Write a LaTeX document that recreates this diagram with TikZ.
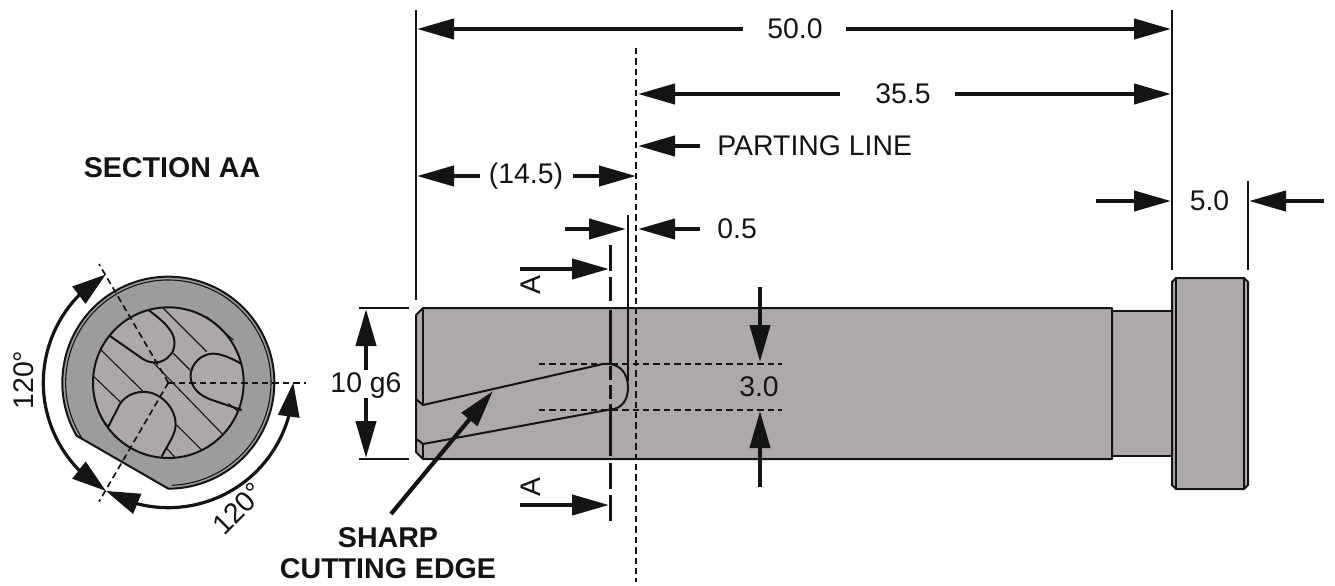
\documentclass[tikz,border=0pt]{standalone}
\usepackage{fontspec}
\setmainfont{Liberation Sans}
\usetikzlibrary{arrows.meta,bending}
\definecolor{steel}{HTML}{ADA9A8}
\definecolor{ring}{HTML}{9E9C9B}
\definecolor{ink}{HTML}{141414}
\tikzset{
  tip/.tip={Triangle[length=18.5pt,width=10pt]},
  arctip/.tip={Triangle[length=17pt,width=10.5pt,flex=1]},
  dimline/.style={draw=ink,line width=2.1pt,-{tip}},
  dimboth/.style={draw=ink,line width=1.6pt,{arctip}-{arctip}},
  extline/.style={draw=ink,line width=0.6pt},
  dashline/.style={draw=ink,line width=0.85pt,dash pattern=on 3.2pt off 2pt},
  outline/.style={draw=ink,line width=1pt,line join=round},
  thinline/.style={draw=ink,line width=0.55pt,line join=round},
  cutline/.style={draw=ink,line width=1.5pt},
  label/.style={font=\fontsize{14.2pt}{15pt}\selectfont,text=ink,inner sep=0pt},
  bold/.style={font=\fontsize{14.3pt}{15.5pt}\selectfont\bfseries,text=ink,inner sep=0pt},
}
\begin{document}
\begin{tikzpicture}[x=0.5pt,y=-0.5pt]
\useasboundingbox (0,0) rectangle (1335,585);
% ---------- extension lines
\coordinate (e1a) at (416,10); \coordinate (e1b) at (416,300);
\coordinate (e2a) at (1172,10); \coordinate (e2b) at (1172,270);
\coordinate (e3a) at (1248,181); \coordinate (e3b) at (1248,270);
\draw[extline] (e1a)--(e1b); \draw[extline] (e2a)--(e2b); \draw[extline] (e3a)--(e3b);
% ---------- shaft
\fill[steel] (423,308) -- (1112,308) -- (1112,311) -- (1172,311) -- (1172,282) -- (1176,278) -- (1244,278) -- (1248,282)
  -- (1248,485) -- (1244,489) -- (1176,489) -- (1172,485) -- (1172,456) -- (1112,456) -- (1112,459) -- (423,459) -- (416,452) -- (416,315) -- cycle;
\draw[outline] (423,308) -- (1112,308) -- (1112,459) -- (423,459) -- (416,452) -- (416,315) -- cycle;
\draw[outline] (423,308) -- (423,405);
\draw[outline] (423,444) -- (423,459);
\draw[outline] (1112,311) -- (1172,311) (1112,456) -- (1172,456);
\draw[outline] (1176,278) -- (1244,278) -- (1248,282) -- (1248,485) -- (1244,489) -- (1176,489) -- (1172,485) -- (1172,282) -- cycle;
\draw[outline] (1176,278) -- (1176,489) (1244,278) -- (1244,489);
% slot
\draw[outline] (416,399) .. controls (419,401) and (421,404) .. (423,405)
  -- (603,364) .. controls (618,362) and (628,372) .. (628,387)
  .. controls (628,400) and (622,409) .. (610,409.5)
  -- (423,444) .. controls (421,443) and (419,440) .. (416,439);
% ---------- centre lines over the shaft
\coordinate (pla) at (636,48); \coordinate (plb) at (636,582);
\draw[dashline] (pla)--(plb);
\coordinate (h1a) at (539,363.7); \coordinate (h1b) at (782,363.7);
\coordinate (h2a) at (539,409.7); \coordinate (h2b) at (782,409.7);
\draw[dashline] (h1a)--(h1b); \draw[dashline] (h2a)--(h2b);
\coordinate (e4a) at (628,215); \coordinate (e4b) at (628,381);
\draw[extline] (e4a)--(e4b);
% section line A-A
\coordinate (c1) at (610,245); \coordinate (c2) at (610,301);
\draw[cutline,dash pattern=on 13pt off 3pt] (c1)--(c2);
\draw[cutline] (610,310)--(610,364);
\draw[cutline,dash pattern=on 7pt off 2.5pt] (610,366)--(610,409);
\draw[cutline] (610,410)--(610,456);
\draw[cutline,dash pattern=on 13pt off 3pt] (610,463)--(610,522);
\coordinate (a1a) at (520,269); \coordinate (a1b) at (609,269);
\coordinate (a2a) at (520,505); \coordinate (a2b) at (609,505);
\draw[dimline] (a1a)--(a1b); \draw[dimline] (a2a)--(a2b);
\node[label,rotate=90] (lA1) at (531,285) {A};
\node[label,rotate=90] (lA2) at (531,487) {A};
% ---------- dimensions
\node[label] (d50) at (795,29) {50.0};
\draw[dimline] (743,29)--(417,29);
\draw[dimline] (846,29)--(1171,29);
\node[label] (d35) at (903,94) {35.5};
\draw[dimline] (840,94)--(638,94);
\draw[dimline] (955,94)--(1171,94);
\node[label,anchor=west] (dpl) at (717,146) {PARTING LINE};
\draw[dimline] (700,146)--(638,146);
\node[label] (d14) at (526,176) {(14.5)};
\draw[dimline] (480,176)--(417,176);
\draw[dimline] (573,176)--(636,176);
\node[label,anchor=west] (d05) at (717,229) {0.5};
\draw[dimline] (565,229)--(626,229);
\draw[dimline] (700,229)--(638,229);
\node[label] (d5) at (1209.5,201) {5.0};
\draw[dimline] (1096,201)--(1171,201);
\draw[dimline] (1324,201)--(1249,201);
% 10 g6
\draw[extline] (359,308)--(409,308) (359,459)--(409,459);
\node[label] (d10) at (366,386) {10 g6};
\draw[dimline] (366,370)--(366,309);
\draw[dimline] (366,398)--(366,458);
% 3.0
\node[label] (d3) at (759,387) {3.0};
\draw[dimline] (760,287)--(760,362);
\draw[dimline] (760,487)--(760,411);
% sharp cutting edge
\node[bold,align=center] (sce) at (388,553) {SHARP\\CUTTING EDGE};
\coordinate (sa) at (391,514); \coordinate (sb) at (493,391);
\draw[dimline] (sa)--(sb);
\node[bold] (sec) at (172,168) {SECTION AA};
% ---------- section view (coordinates of a 3x crop)
\begin{scope}[shift={(0,240)},scale=1/3]
  \coordinate (o) at (505,428);
  \fill[ring,draw=ink,line width=1pt,line join=round] (o) ++(-210:318) arc[start angle=-210,end angle=90,radius=318] -- cycle;
  \draw[thinline] (o) ++(-213:308) arc[start angle=-213,end angle=88,radius=308];
  \draw[outline,fill=steel!92!ring] (o) circle[radius=226];
  % slots
  \draw[outline] (330,288) -- (430,358) .. controls (465,378) and (500,365) .. (518,335)
     .. controls (535,295) and (515,260) .. (445,210);
  \draw[outline] (725,372) .. controls (690,352) and (660,340) .. (635,341)
     .. controls (590,345) and (565,390) .. (573,420) .. controls (580,450) and (600,465) .. (630,478) -- (725,510);
  \draw[outline] (325,560) -- (358,495) .. controls (375,465) and (410,453) .. (440,456)
     .. controls (490,462) and (528,510) .. (527,555) .. controls (526,585) and (505,610) .. (485,650);
  % hatching
  \draw[thinline] (282,410)--(365,490) (303,330)--(430,455) (457,365)--(670,585)
     (490,205)--(620,335) (520,340)--(570,390) (530,555)--(605,630) (500,625)--(525,652)
     (620,230)--(700,300) (685,490)--(715,515) (305,535)--(325,560);
  % centre lines
  \coordinate (cu) at (297,72); \coordinate (cd) at (297,785); \coordinate (cr) at (918,428);
  \draw[dashline] (o)--(cu); \draw[dashline] (o)--(cd); \draw[dashline] (o)--(cr);
  \fill[ink] (o) circle[radius=5];
  % arcs
  \draw[dimboth] (o) ++(-120:375) arc[start angle=-120,end angle=-240,radius=375];
  \draw[dimboth] (o) ++(-240:375) arc[start angle=-240,end angle=-360,radius=375];
  \node[label,rotate=90] (a120a) at (70,420) {120°};
  \node[label,rotate=45] (a120b) at (714,806) {120°};
\end{scope}
\end{tikzpicture}
\end{document}
